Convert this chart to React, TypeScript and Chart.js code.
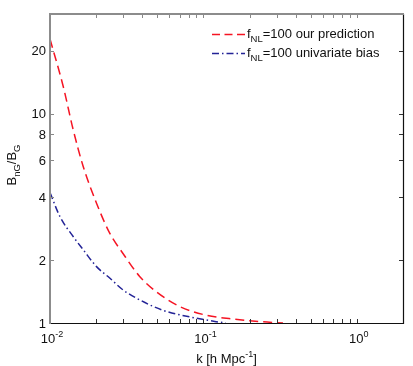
import { useEffect, useRef } from "react";
import { Chart, registerables } from "chart.js";

Chart.register(...registerables);

// ---- data ----
const kPrediction = [0.01, 0.0122, 0.01416, 0.01646, 0.0201, 0.0245, 0.0299, 0.0384, 0.0493, 0.0698, 0.104, 0.147, 0.2, 0.26, 0.33];
const bPrediction = [22.8, 13.5, 8.4, 5.6, 3.74, 2.69, 2.15, 1.67, 1.41, 1.2, 1.09, 1.05, 1.025, 1.01, 1.0];
const kUnivariate = [0.01, 0.0116, 0.01416, 0.01646, 0.0201, 0.0245, 0.0299, 0.0384, 0.0545, 0.081, 0.121, 0.14];
const bUnivariate = [4.2, 3.23, 2.59, 2.24, 1.86, 1.64, 1.44, 1.29, 1.15, 1.07, 1.015, 1.0];

const yTickValues = [1, 2, 4, 6, 8, 10, 20];
const xMajorTicks = [0.01, 0.1, 1];
const xMajorBase = ["10", "10", "10"];
const xMajorExp = ["-2", "-1", "0"];
const xMinorTicks = [0.02, 0.03, 0.04, 0.05, 0.06, 0.07, 0.08, 0.09, 0.2, 0.3, 0.4, 0.5, 0.6, 0.7, 0.8, 0.9, 2];
const seriesNames = ["=100 our prediction", "=100 univariate bias"];

const FONT = '"Liberation Sans", Arial, Helvetica, sans-serif';
const RED = "rgb(245,20,35)";
const BLUE = "rgb(35,35,150)";
const FS = 13;
const FSS = 9.5;

type Part = { t: string; size: number; dy: number };

function drawParts(ctx: CanvasRenderingContext2D, parts: Part[], x: number, y: number, align: "left" | "center" | "right") {
  let total = 0;
  const widths = parts.map((p) => {
    ctx.font = `${p.size}px ${FONT}`;
    const w = ctx.measureText(p.t).width;
    total += w;
    return w;
  });
  let cx = align === "left" ? x : align === "center" ? x - total / 2 : x - total;
  ctx.textAlign = "left";
  ctx.textBaseline = "alphabetic";
  parts.forEach((p, i) => {
    ctx.font = `${p.size}px ${FONT}`;
    ctx.fillText(p.t, cx, y + p.dy);
    cx += widths[i];
  });
}

const framePlugin = {
  id: "frame",
  afterDatasetsDraw(chart: any) {
    const { ctx, chartArea: a, scales } = chart;
    const xs = scales.x;
    const ys = scales.y;
    const L = Math.round(a.left);
    const R = Math.round(a.right);
    const T = Math.round(a.top);
    const B = Math.round(a.bottom);
    ctx.save();

    // ticks
    const tl = 4;
    ctx.lineWidth = 1;
    const allX = [...xMajorTicks, ...xMinorTicks];
    allX.forEach((v) => {
      const px = Math.round(xs.getPixelForValue(v)) + 0.5;
      ctx.strokeStyle = "#333";
      ctx.beginPath();
      ctx.moveTo(px, B);
      ctx.lineTo(px, B - tl);
      ctx.stroke();
      ctx.strokeStyle = "#888";
      ctx.beginPath();
      ctx.moveTo(px, T);
      ctx.lineTo(px, T + tl);
      ctx.stroke();
    });
    yTickValues.forEach((v) => {
      const py = Math.round(ys.getPixelForValue(v)) + 0.5;
      ctx.strokeStyle = "#888";
      ctx.beginPath();
      ctx.moveTo(L, py);
      ctx.lineTo(L + tl, py);
      ctx.stroke();
      ctx.strokeStyle = "#333";
      ctx.beginPath();
      ctx.moveTo(R, py);
      ctx.lineTo(R - tl, py);
      ctx.stroke();
    });

    // frame
    ctx.strokeStyle = "#111";
    ctx.lineWidth = 1.2;
    ctx.beginPath();
    ctx.moveTo(L, B + 0.5);
    ctx.lineTo(R + 1, B + 0.5);
    ctx.moveTo(R + 0.5, T);
    ctx.lineTo(R + 0.5, B + 1);
    ctx.stroke();
    ctx.strokeStyle = "#8c8c8c";
    ctx.lineWidth = 2;
    ctx.beginPath();
    ctx.moveTo(L, B + 1);
    ctx.lineTo(L, T);
    ctx.lineTo(R + 1, T);
    ctx.stroke();

    // y tick labels
    ctx.fillStyle = "#111";
    yTickValues.forEach((v) => {
      const py = ys.getPixelForValue(v);
      ctx.font = `${FS}px ${FONT}`;
      ctx.textAlign = "right";
      ctx.textBaseline = "alphabetic";
      ctx.fillText(String(v), L - 4, py + 4.5);
    });

    // x tick labels
    xMajorTicks.forEach((v, i) => {
      const px = xs.getPixelForValue(v);
      drawParts(
        ctx,
        [
          { t: xMajorBase[i], size: FS, dy: 0 },
          { t: xMajorExp[i], size: FSS - 0.5, dy: -6 },
        ],
        px + 2,
        B + 20,
        "center"
      );
    });

    // x title
    const cxm = (L + R) / 2;
    drawParts(
      ctx,
      [
        { t: "k [h Mpc", size: FS, dy: 0 },
        { t: "-1", size: FSS - 0.5, dy: -6 },
        { t: "]", size: FS, dy: 0 },
      ],
      cxm,
      B + 40,
      "center"
    );

    // y title
    ctx.save();
    ctx.translate(16, 165);
    ctx.rotate(-Math.PI / 2);
    drawParts(
      ctx,
      [
        { t: "B", size: FS, dy: 0 },
        { t: "nG", size: FSS, dy: 4 },
        { t: "/B", size: FS, dy: 0 },
        { t: "G", size: FSS, dy: 4 },
      ],
      0,
      0,
      "center"
    );
    ctx.restore();

    // legend
    const legendRows = [
      { color: RED, dash: [8, 4.5], y: 34 },
      { color: BLUE, dash: [7, 3, 1.5, 3], y: 53 },
    ];
    legendRows.forEach((row, i) => {
      ctx.strokeStyle = row.color;
      ctx.lineWidth = 1.5;
      ctx.setLineDash(row.dash);
      ctx.beginPath();
      ctx.moveTo(212, row.y + 0.5);
      ctx.lineTo(245, row.y + 0.5);
      ctx.stroke();
      ctx.setLineDash([]);
      ctx.fillStyle = "#111";
      drawParts(
        ctx,
        [
          { t: "f", size: FS, dy: 0 },
          { t: "NL", size: FSS, dy: 4 },
          { t: seriesNames[i], size: FS, dy: 0 },
        ],
        247,
        row.y + 4,
        "left"
      );
    });

    ctx.restore();
  },
};

export default function App() {
  const ref = useRef<HTMLCanvasElement>(null);
  useEffect(() => {
    document.body.style.margin = "0";
    const canvas = ref.current!;
    const chart = new Chart(canvas, {
      type: "line",
      data: {
        datasets: [
          {
            label: "fNL=100 our prediction",
            data: kPrediction.map((k, i) => ({ x: k, y: bPrediction[i] })),
            borderColor: RED,
            borderWidth: 1.5,
            borderDash: [9, 5],
            pointRadius: 0,
            cubicInterpolationMode: "monotone",
            fill: false,
          },
          {
            label: "fNL=100 univariate bias",
            data: kUnivariate.map((k, i) => ({ x: k, y: bUnivariate[i] })),
            borderColor: BLUE,
            borderWidth: 1.5,
            borderDash: [7, 3, 1.5, 3],
            pointRadius: 0,
            cubicInterpolationMode: "monotone",
            fill: false,
          },
        ],
      },
      options: {
        animation: false,
        responsive: false,
        devicePixelRatio: 1,
        layout: { padding: { top: 14, right: 10, left: 0, bottom: 0 } },
        plugins: { legend: { display: false }, tooltip: { enabled: false } },
        scales: {
          x: {
            type: "logarithmic",
            min: 0.01,
            max: 2,
            grid: { display: false },
            border: { display: false },
            ticks: { display: false },
            afterFit: (s: any) => {
              s.height = 43;
            },
          },
          y: {
            type: "logarithmic",
            min: 1,
            max: 30,
            grid: { display: false },
            border: { display: false },
            ticks: { display: false },
            afterFit: (s: any) => {
              s.width = 50;
            },
          },
        },
      },
      plugins: [framePlugin],
    });
    return () => chart.destroy();
  }, []);
  return (
    <div style={{ position: "fixed", left: 0, top: 0, width: 413, height: 366, background: "#fff" }}>
      <canvas ref={ref} width={413} height={366} style={{ display: "block", width: 413, height: 366 }} />
    </div>
  );
}
